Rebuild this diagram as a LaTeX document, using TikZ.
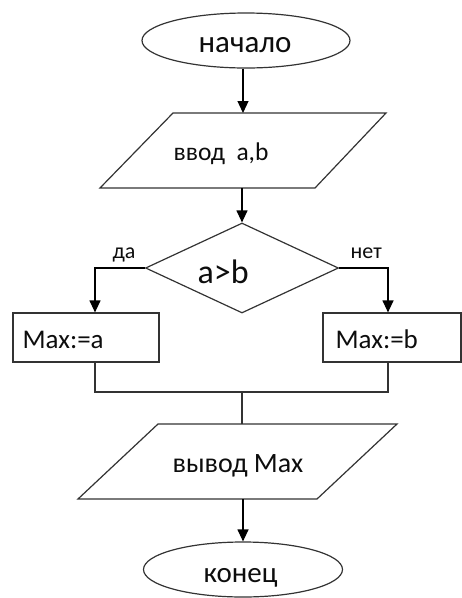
\documentclass[tikz,border=0pt]{standalone}
\usepackage{fontspec}
\setmainfont{Carlito}
\usetikzlibrary{shapes.geometric,arrows.meta}
\newcommand{\fs}[1]{\fontsize{#1}{#1}\selectfont}
\begin{document}
\begin{tikzpicture}[x=1pt,y=-1pt,
  line width=1.2pt,
  every node/.style={text=black!95},
  txt/.style={anchor=base west,inner sep=0pt},
  term/.style={ellipse,draw=black!80,inner sep=0pt,minimum height=55pt},
  io/.style={draw=black!80,line join=miter},
  decision/.style={diamond,draw=black!80,inner sep=0pt},
  stepbox/.style={rectangle,draw=black!80,inner sep=0pt,minimum height=49pt},
  arr/.style={draw=black,-{Triangle[width=11pt,length=12pt]}},
  link/.style={draw=black!80}]
\useasboundingbox (0,0) rectangle (462,598);

% input parallelogram
\draw[io] (173,113) -- (386,113) -- (315,188) -- (100,188) -- cycle;
\coordinate (in-n) at (243,113);
\coordinate (in-s) at (243,188);
% output parallelogram
\draw[io] (158,424) -- (397,424) -- (317,499) -- (78,499) -- cycle;
\coordinate (out-n) at (242,424);
\coordinate (out-s) at (243,499);

% terminals, decision and assignment boxes
\node[term,minimum width=208pt] (start) at (246,40.5) {};
\node[decision,minimum width=193pt,minimum height=90pt] (cond) at (242,268) {};
\node[stepbox,minimum width=146pt] (ya) at (86,337.5) {};
\node[stepbox,minimum width=138pt] (na) at (392,337.5) {};
\node[term,minimum width=199pt] (stop) at (243,569.5) {};

% texts
\node[txt,font=\fs{31}] (starttext) at (198,52) {начало};
\node[txt,font=\fs{25.5}] (intext) at (173,160) {ввод\ \ a,b};
\node[txt,font=\fs{34}] (condtext) at (197,283) {a>b};
\node[txt,font=\fs{27}] (yatext) at (22,348) {Max:=a};
\node[txt,font=\fs{27}] (natext) at (335,348) {Max:=b};
\node[txt,font=\fs{28}] (outtext) at (172,472) {вывод Max};
\node[txt,font=\fs{29}] (stoptext) at (203,582) {конец};

% branch labels
\node[txt,font=\fs{22}] (yes) at (112,258) {да};
\node[txt,font=\fs{22}] (no) at (350,258) {нет};

% connectors
\coordinate (join) at (242,392);
\draw[arr] (start.south -| in-n) -- (in-n);
\draw[arr] (in-s -| cond.north) -- (cond.north);
\draw[arr] (cond.west) -| ([xshift=9pt]ya.north);
\draw[arr] (cond.east) -| ([xshift=-4pt]na.north);
\draw[link] ([xshift=9pt]ya.south) |- (join) -| ([xshift=-4pt]na.south);
\draw[link] (join) -- (out-n);
\draw[arr] (out-s) -- (stop.north);
\end{tikzpicture}
\end{document}
